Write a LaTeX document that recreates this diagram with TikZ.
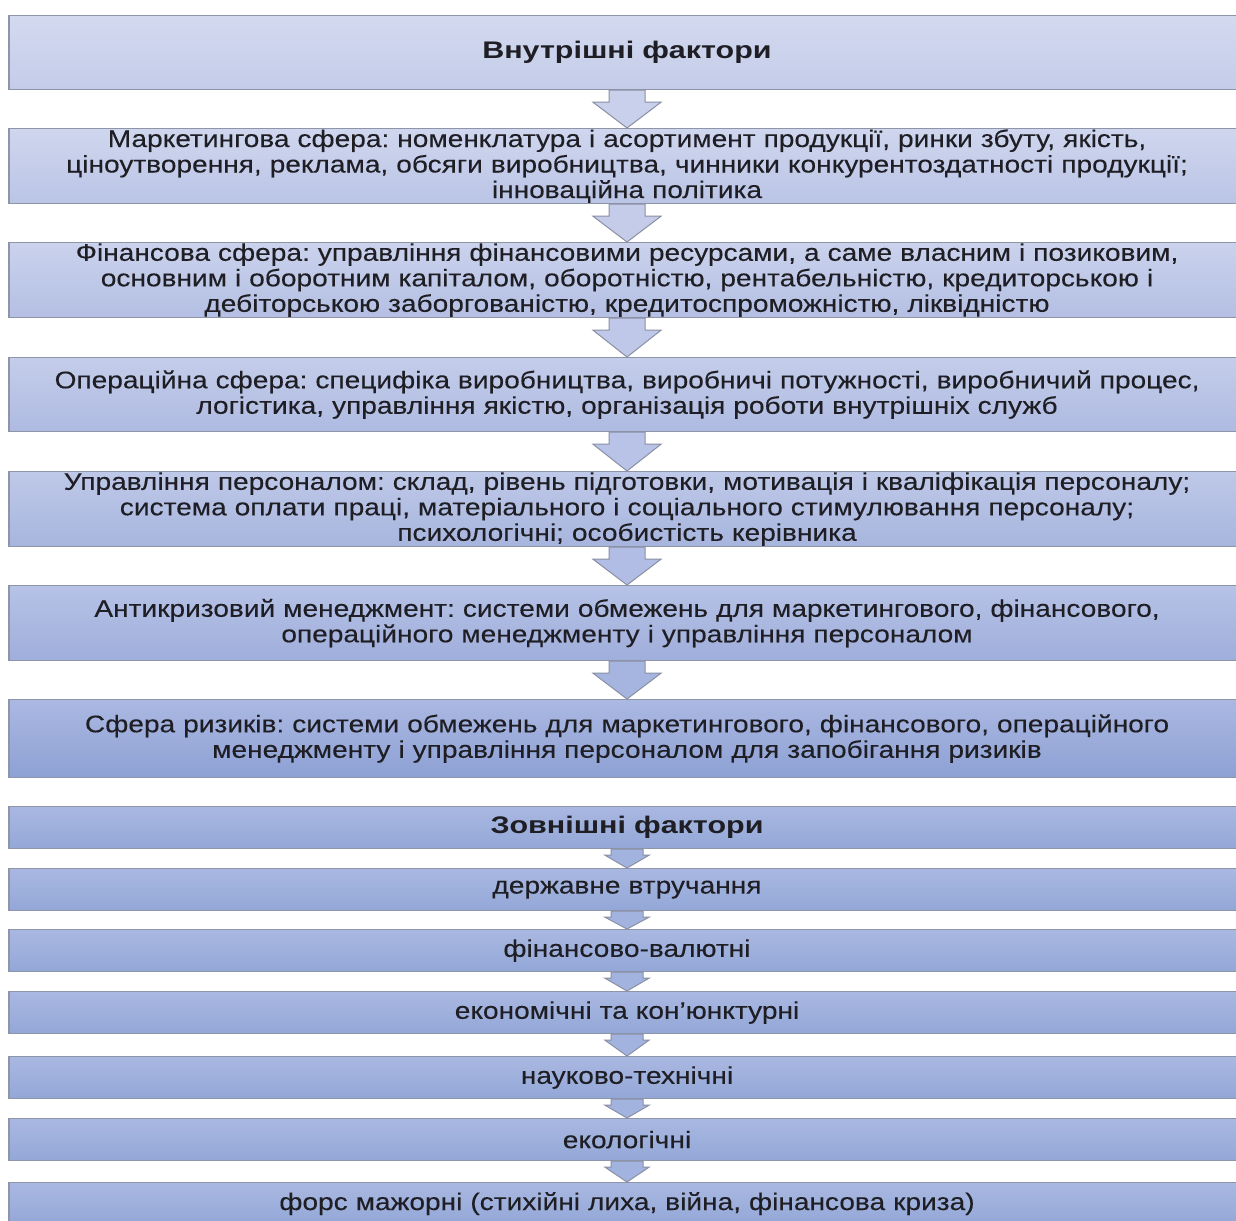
\documentclass[tikz,border=0pt]{standalone}
\usepackage{fontspec}
\setmainfont{Liberation Sans}[FakeStretch=1.17, FakeBold=0.2]
\newfontfamily\ttlfont{Liberation Sans Bold}[FakeStretch=1.27]
\usetikzlibrary{calc}
\frenchspacing
\definecolor{txt}{HTML}{1E1E24}
\definecolor{boxline}{HTML}{8F95A8}
\definecolor{arline}{HTML}{8A90A4}
\newcommand{\dnarrow}[6]{%
  \draw[arrsty, fill=#6] let \p1=(#1.south), \p2=(#2.north) in
    (\x1-#3,\y1) -- (\x1+#3,\y1) -- (\x1+#3,\y1-#5) -- (\x1+#4,\y1-#5)
    -- (\x1,\y2) -- (\x1-#4,\y1-#5) -- (\x1-#3,\y1-#5) -- cycle;}
\begin{document}
\begin{tikzpicture}[x=1pt,y=1pt,
  fbox/.style={draw=boxline, line width=1.2pt, minimum width=1236pt,
    inner xsep=0pt, inner ysep=0pt, text width=1230pt, align=center,
    text=txt, font=\fontsize{24}{25.5}\selectfont\frenchspacing, anchor=north},
  arrsty/.style={draw=arline, line width=1pt, line join=miter}]
\useasboundingbox (0,0) rectangle (1236,-1220);
\clip (0,0) rectangle (1236,-1220);
\fill[white] (0,0) rectangle (1236,-1220);

\node[fbox, minimum height=74pt, top color={rgb,255:red,211;green,217;blue,239}, bottom color={rgb,255:red,196;green,204;blue,233}] (b1) at (627,-15) {\ttlfont Внутрішні фактори};
\node[fbox, minimum height=75pt, top color={rgb,255:red,207;green,214;blue,238}, bottom color={rgb,255:red,186;green,196;blue,229}] (b2) at (627,-128) {Маркетингова сфера: номенклатура і асортимент продукції, ринки збуту, якість,\\ ціноутворення, реклама, обсяги виробництва, чинники конкурентоздатності продукції;\\ інноваційна політика};
\node[fbox, minimum height=75pt, top color={rgb,255:red,202;green,210;blue,236}, bottom color={rgb,255:red,180;green,191;blue,227}] (b3) at (627,-242) {Фінансова сфера: управління фінансовими ресурсами, а саме власним і позиковим,\\ основним і оборотним капіталом, оборотністю, рентабельністю, кредиторською і\\ дебіторською заборгованістю, кредитоспроможністю, ліквідністю};
\node[fbox, minimum height=74pt, top color={rgb,255:red,196;green,205;blue,234}, bottom color={rgb,255:red,174;green,186;blue,225}] (b4) at (627,-357) {Операційна сфера: специфіка виробництва, виробничі потужності, виробничий процес,\\ логістика, управління якістю, організація роботи внутрішніх служб};
\node[fbox, minimum height=75pt, top color={rgb,255:red,190;green,200;blue,232}, bottom color={rgb,255:red,167;green,181;blue,222}] (b5) at (627,-471) {Управління персоналом: склад, рівень підготовки, мотивація і кваліфікація персоналу;\\ система оплати праці, матеріального і соціального стимулювання персоналу;\\ психологічні; особистість керівника};
\node[fbox, minimum height=75pt, top color={rgb,255:red,182;green,194;blue,230}, bottom color={rgb,255:red,159;green,174;blue,219}] (b6) at (627,-585) {Антикризовий менеджмент: системи обмежень для маркетингового, фінансового,\\ операційного менеджменту і управління персоналом};
\node[fbox, minimum height=78pt, top color={rgb,255:red,171;green,184;blue,226}, bottom color={rgb,255:red,141;green,161;blue,212}] (b7) at (627,-699) {Сфера ризиків: системи обмежень для маркетингового, фінансового, операційного\\ менеджменту і управління персоналом для запобігання ризиків};

\tikzset{lowbox/.style={fbox, minimum height=42pt, top color={rgb,255:red,169;green,184;blue,225}, bottom color={rgb,255:red,147;green,167;blue,215}}}
\node[lowbox] (c1) at (627,-806) {\ttlfont Зовнішні фактори};
\node[lowbox] (c2) at (627,-868) {державне втручання};
\node[lowbox] (c3) at (627,-929) {фінансово-валютні};
\node[lowbox] (c4) at (627,-991) {економічні та кон’юнктурні};
\node[lowbox] (c5) at (627,-1056) {науково-технічні};
\node[lowbox] (c6) at (627,-1118) {екологічні};
\node[lowbox] (c7) at (627,-1182) {форс мажорні (стихійні лиха, війна, фінансова криза)};

\dnarrow{b1}{b2}{18}{34}{12}{{rgb,255:red,200;green,208;blue,236}}
\dnarrow{b2}{b3}{18}{34}{12}{{rgb,255:red,196;green,204;blue,234}}
\dnarrow{b3}{b4}{18}{34}{12}{{rgb,255:red,191;green,200;blue,232}}
\dnarrow{b4}{b5}{18}{34}{12}{{rgb,255:red,185;green,195;blue,231}}
\dnarrow{b5}{b6}{18}{34}{12}{{rgb,255:red,177;green,189;blue,228}}
\dnarrow{b6}{b7}{18}{34}{12}{{rgb,255:red,166;green,180;blue,224}}

\dnarrow{c1}{c2}{16}{22}{6}{{rgb,255:red,163;green,179;blue,223}}
\dnarrow{c2}{c3}{16}{22}{6}{{rgb,255:red,163;green,179;blue,223}}
\dnarrow{c3}{c4}{16}{22}{6}{{rgb,255:red,163;green,179;blue,223}}
\dnarrow{c4}{c5}{16}{22}{6}{{rgb,255:red,163;green,179;blue,223}}
\dnarrow{c5}{c6}{16}{22}{6}{{rgb,255:red,163;green,179;blue,223}}
\dnarrow{c6}{c7}{16}{22}{6}{{rgb,255:red,163;green,179;blue,223}}
\end{tikzpicture}
\end{document}
